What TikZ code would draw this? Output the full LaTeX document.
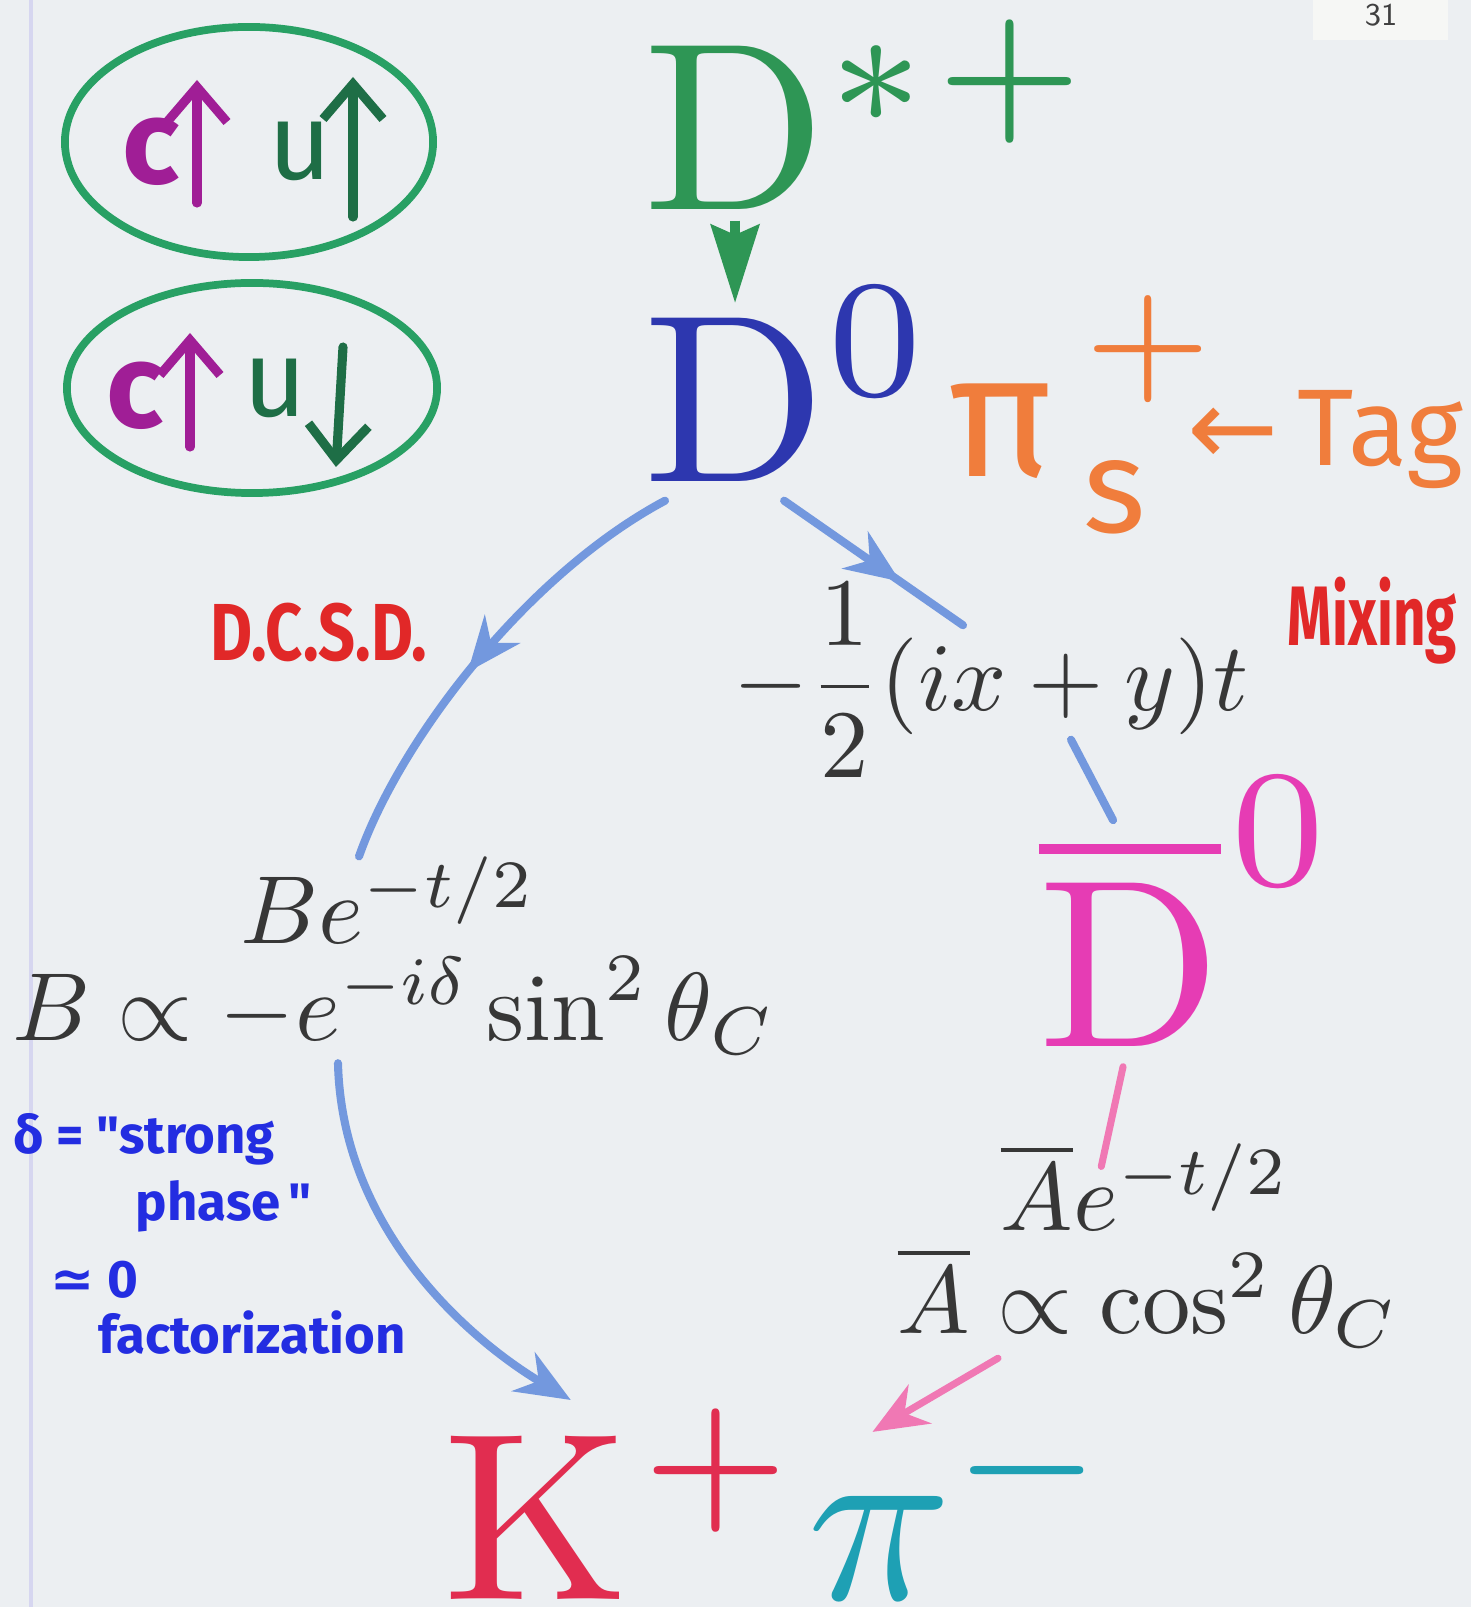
\documentclass[tikz,border=0pt]{standalone}
\usepackage{fontspec}
\usepackage{graphicx}
\newfontfamily\hand{Fira Sans}
\newfontfamily\djvfont{DejaVu Sans}
\usetikzlibrary{arrows.meta,positioning,decorations.markings}
\definecolor{cpaper}{RGB}{236,239,242}
\definecolor{ctab}{RGB}{246,247,245}
\definecolor{cmargin}{RGB}{214,214,240}
\definecolor{cgreen}{RGB}{46,150,85}
\definecolor{cblue}{RGB}{45,55,175}
\definecolor{corange}{RGB}{240,125,60}
\definecolor{cmagenta}{RGB}{230,60,180}
\definecolor{cred}{RGB}{225,45,80}
\definecolor{cteal}{RGB}{30,160,180}
\definecolor{cline}{RGB}{115,152,222}
\definecolor{cpink}{RGB}{240,120,180}
\definecolor{chred}{RGB}{225,40,40}
\definecolor{chblue}{RGB}{35,45,225}
\definecolor{cring}{RGB}{40,160,100}
\definecolor{cpurple}{RGB}{160,30,150}
\definecolor{cdkgreen}{RGB}{30,110,70}
\definecolor{cink}{RGB}{55,55,55}
\newcommand{\narrow}[2][0.8]{\scalebox{#1}[1]{#2}}
\newcommand{\hadron}[1]{\scalebox{6.8}{$#1$}}
\newcommand{\ampl}[1]{\scalebox{2.75}{$#1$}}

\begin{document}
\begin{tikzpicture}[
  x=0.01cm, y=-0.01cm,
  >=Stealth,
  big/.style={inner sep=0pt},
  formula/.style={inner sep=0pt, text=cink},
  handred/.style={inner sep=0pt, text=chred, font=\hand\bfseries\fontsize{23}{23}\selectfont},
  handblue/.style={inner sep=0pt, text=chblue, font=\hand\bfseries\fontsize{15}{15}\selectfont},
  handorange/.style={inner sep=0pt, text=corange},
  quark/.style={inner sep=0pt, font=\hand\bfseries\fontsize{34}{34}\selectfont},
  ring/.style={draw=cring, line width=2.2pt},
  spin/.style={line width=2.6pt, line cap=round, -{Straight Barb[length=0.35cm,width=0.6cm]}},
  flow/.style={color=cline, line width=2.3pt, line cap=round},
  pinkline/.style={color=cpink, line width=2pt, line cap=round},
  headend/.style={-{Stealth[length=0.55cm,width=0.45cm]}},
  midtip/.style={postaction={decorate}, decoration={markings,
      mark=at position #1 with {\arrow{Stealth[length=0.55cm,width=0.45cm]}}}},
  garrow/.style={color=cgreen, line width=2.8pt,
      -{Stealth[length=0.78cm,width=0.48cm,inset=0.1cm]},
      shorten <=0.1cm, shorten >=0.15cm},
]

\fill[cpaper] (0,0) rectangle (1471,1607);
\useasboundingbox (0,0) rectangle (1471,1607);
\draw[cmargin, line width=1.2pt] (31,0) -- (31,1607);
\fill[ctab] (1313,0) rectangle (1448,40);
\node[font=\sffamily\fontsize{9}{9}\selectfont, text=black!75] (pagenum) at (1381,15) {31};

\draw[ring] (249,142) ellipse [x radius=1.84cm, y radius=1.15cm];
\draw[ring] (252,388) ellipse [x radius=1.85cm, y radius=1.05cm];
\node[quark, text=cpurple] (c1) at (151,152) {c};
\node[quark, text=cdkgreen, font=\hand\fontsize{31}{31}\selectfont] (u1) at (300,151) {u};
\node[quark, text=cpurple] (c2) at (135,396) {c};
\node[quark, text=cdkgreen, font=\hand\fontsize{31}{31}\selectfont] (u2) at (275,388) {u};
\draw[spin, cpurple] (197,203) -- (197,80);
\draw[spin, cdkgreen] (353,217) -- (353,77);
\draw[spin, cpurple] (190,447) -- (190,333);
\draw[spin, cdkgreen] (343,347) -- (336,467);

\node[big, text=cgreen, anchor=base west] (Dstar) at (643,210) {\hadron{\mathrm{D}}};
\node[big, text=cgreen, anchor=base west] (Dstarsup) at (Dstar.base east) {\hadron{\vphantom{\mathrm{D}}^{*\mkern1mu+}}};
\node[big, text=cblue, anchor=base west] (D0) at (643,482) {\hadron{\mathrm{D}}};
\node[big, text=cblue, anchor=base west] (D0sup) at (D0.base east) {\hadron{\vphantom{\mathrm{D}}^{0}}};

\node[handorange, font=\hand\fontsize{50}{50}\selectfont, anchor=base west] (pis) at (948,477) {π};
\node[handorange] (pisup) at (1148,349) {\scalebox{5.9}{$\scriptstyle+$}};
\node[handorange, font=\hand\fontsize{38}{38}\selectfont] (pisub) at (1115,497) {s};
\node[handorange, font=\hand\fontsize{31}{31}\selectfont, anchor=base west] (tag) at (1187,466) {{\djvfont ←}\,Tag};

\node[handred, anchor=base west] (dcsd) at (210,661) {\narrow{D.C.S.D.}};
\node[handred, font=\hand\bfseries\fontsize{24}{24}\selectfont, anchor=base west] (mixing) at (1287,646) {\narrow[0.67]{Mixing}};

\node[formula] (mix) at (991,680) {\ampl{\displaystyle -\frac{1}{2}(ix+y)t}};
\node[formula, anchor=base west] (Be) at (240,943) {\ampl{Be^{-t/2}}};
\node[formula, anchor=base west] (Bprop) at (12,1040) {\ampl{B\propto -e^{-i\delta}\sin^2\theta_C}};

\node[big, text=cmagenta, anchor=base west] (Dbar) at (1038,1046) {\hadron{\overline{\mathrm{D}}}};
\node[big, text=cmagenta, anchor=base west] (Dbarsup) at ([shift={(8,-74)}]Dbar.base east) {\hadron{\vphantom{\mathrm{D}}^{0}}};
\node[formula, anchor=base west] (Ae) at (1000,1230) {\ampl{\overline{A}e^{-t/2}}};
\node[formula, anchor=base west] (Aprop) at (897,1333) {\ampl{\overline{A}\propto\cos^2\theta_C}};

\node[handblue, anchor=base west] (delta) at (13,1153) {δ = "strong};
\node[handblue, anchor=base west] (phase) at (135,1220) {phase\hspace{0.15em}"};
\node[handblue, anchor=base west] (approx) at (50,1297) {{\djvfont ≃} 0};
\node[handblue, anchor=base west] (fact) at (98,1353) {factorization};

\node[big, text=cred, anchor=base west] (K) at (443,1599) {\hadron{\mathrm{K}}};
\node[big, anchor=base west] (pim) at (K.base east) {\hadron{\vphantom{\mathrm{K}}^{\mkern1mu\textcolor{cred}{+}}\mkern0.5mu\textcolor{cteal}{\pi^{-}}}};

\draw[garrow] (Dstar.south) -- (D0.north);
\draw[flow, midtip=0.55] ([shift={(22,18)}]D0.south west) .. controls (526,575) and (400,740) .. ([shift={(119,0)}]Be.north west);
\draw[flow, midtip=0.65] ([shift={(-43,18)}]D0.south east) -- ([shift={(-28,43)}]mix.north);
\draw[flow] ([shift={(80,-38)}]mix.south) -- ([shift={(-17,-14)}]Dbar.north);
\draw[pinkline] ([shift={(-7,20)}]Dbar.south) -- ([shift={(-44,23)}]Ae.north);
\draw[flow, headend] ([shift={(326,8)}]Bprop.south west) .. controls (342,1230) and (470,1340) .. ([shift={(34,-35)}]K.north);
\draw[pinkline, headend] ([shift={(101,10)}]Aprop.south west) -- ([shift={(242,24)}]pim.north west);

\end{tikzpicture}
\end{document}
